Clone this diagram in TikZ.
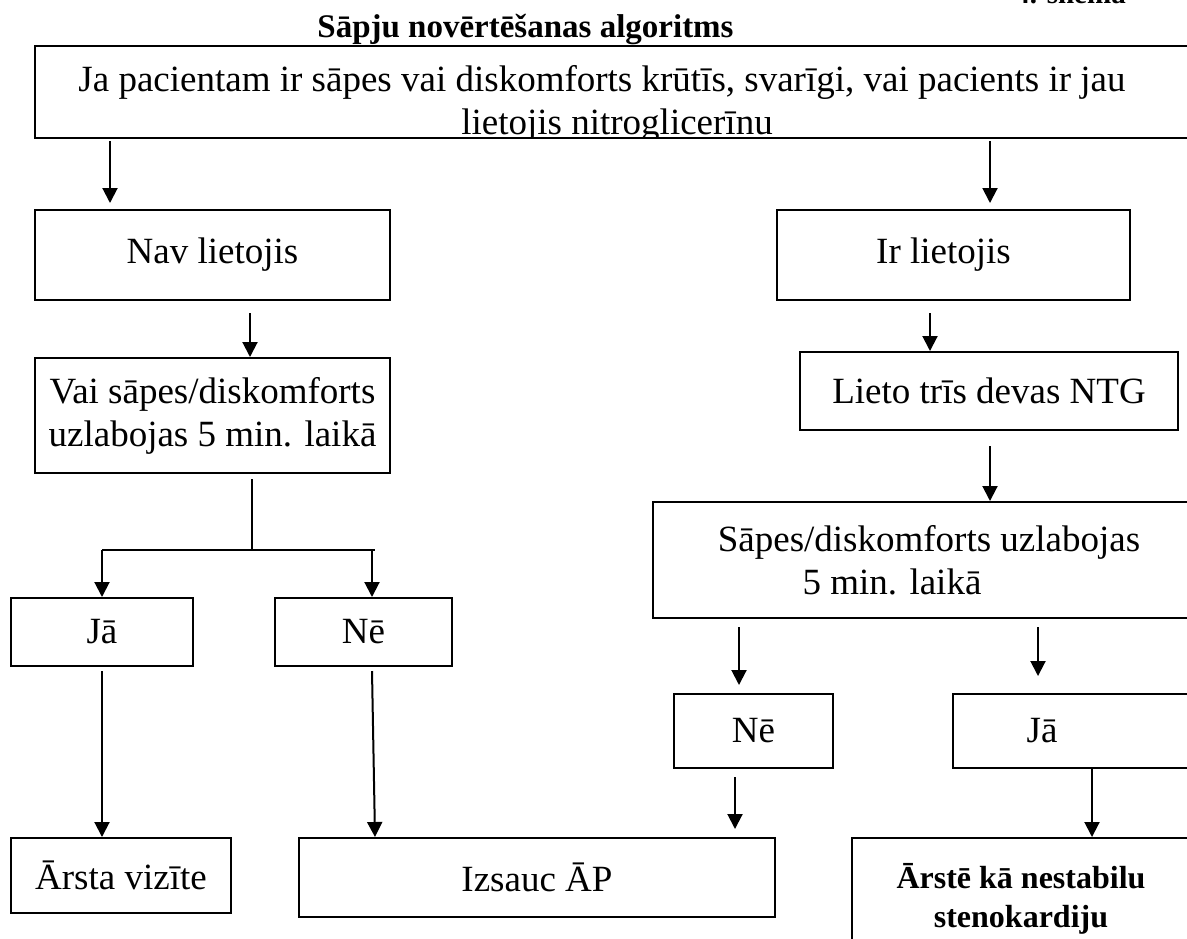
\documentclass[tikz,border=0pt]{standalone}
\usepackage{fontspec}
\setmainfont{Liberation Serif}
\usetikzlibrary{arrows.meta,calc}
\newcommand\fcbody{\fontsize{18.5pt}{21.5pt}\selectfont}
\newcommand\fcbold{\fontsize{16pt}{19.5pt}\selectfont\bfseries}
\begin{document}
\begin{tikzpicture}[x=0.5pt,y=-0.5pt,
  box/.style={draw,line width=1pt,inner sep=0pt,align=center,font=\fcbody},
  txt/.style={inner sep=0pt,align=center,font=\fcbody},
  arr/.style={line width=1pt,-{Triangle[length=7.5pt,width=7.5pt]}},
  ln/.style={line width=1pt}]
\useasboundingbox (0,0) rectangle (1187,938);
\clip (0,0) rectangle (1187,938);

% heading and sheet number
\node[inner sep=0pt,font=\fontsize{16.5pt}{19pt}\selectfont\bfseries,anchor=base west] (title) at (317,37) {Sāpju novērtēšanas algoritms};
\node[inner sep=0pt,font=\fontsize{14.5pt}{17pt}\selectfont\bfseries,anchor=base west] (sheet) at (1015,3) {4. shēma};

% question box, its text runs past the frame and is cut by it
\node[box,minimum width=587.5pt,minimum height=46pt] (top) at (622.5,92) {};
\begin{scope}
  \clip (35,46) rectangle (1210,138);
  \node[txt,anchor=base] (topline1) at (602,91) {Ja pacientam ir sāpes vai diskomforts krūtīs, svarīgi, vai pacients ir jau};
  \node[txt,anchor=base] (topline2) at (617,134) {lietojis nitroglicerīnu};
\end{scope}

% left branch
\node[box,minimum width=177.5pt,minimum height=45pt] (nav) at (212.5,255) {Nav lietojis};
\node[box,minimum width=177.5pt,minimum height=57.5pt] (vai) at (212.5,415.5) {Vai sāpes/diskomforts\\uzlabojas 5 min. laikā};
\node[box,minimum width=91pt,minimum height=34pt] (ja1) at (102,632) {Jā};
\node[box,minimum width=88.5pt,minimum height=34pt] (ne1) at (363.5,632) {Nē};
\node[box,minimum width=110pt,minimum height=37.5pt] (arsta) at (121,875.5) {Ārsta vizīte};
\node[box,minimum width=238pt,minimum height=39.5pt] (izsauc) at (537,877.5) {Izsauc ĀP};

% right branch
\node[box,minimum width=176.5pt,minimum height=45pt] (ir) at (953.5,255) {Ir lietojis\hspace*{10pt}};
\node[box,minimum width=189pt,minimum height=39pt] (lieto) at (989,391) {Lieto trīs devas NTG};
\node[box,minimum width=276pt,minimum height=58pt] (sapes) at (929,560) {Sāpes/diskomforts uzlabojas\\5 min. laikā\hspace*{37pt}};
\node[box,minimum width=79.5pt,minimum height=37pt] (ne2) at (753.5,731) {Nē};
\node[box,minimum width=128.5pt,minimum height=37pt] (ja2) at (1081.5,731) {Jā\hspace*{39.5pt}};
\node[box,minimum width=169pt,minimum height=61pt,font=\fcbold] (arste) at (1021,899) {Ārstē kā nestabilu\\stenokardiju};

% connectors
\draw[arr] (top.south -| 110,0) ++(0,2) -- ([yshift=3pt]nav.north -| 110,0);
\draw[arr] (top.south -| 990,0) ++(0,2) -- ([yshift=3pt]ir.north -| 990,0);
\draw[arr] (nav.south -| 250,0) ++(0,12) -- (vai.north -| 250,0);
\draw[arr] (ir.south -| 930,0) ++(0,12) -- (lieto.north -| 930,0);
\draw[arr] (lieto.south -| 990,0) ++(0,15) -- (sapes.north -| 990,0);

\coordinate (fork) at (252,550);
\draw[ln] (vai.south -| fork) ++(0,5) -- (fork);
\draw[ln] (fork -| ja1) -- (fork -| 375,0);
\draw[arr] (fork -| ja1) -- (ja1.north);
\draw[arr] (fork -| 372,0) -- (ne1.north -| 372,0);

\draw[arr] (ja1.south) ++(0,4) -- (arsta.north -| ja1);
\draw[arr] (ne1.south -| 372,0) ++(0,4) -- (izsauc.north -| 375,0);

\draw[arr] (sapes.south -| 739,0) ++(0,8) -- ([yshift=4pt]ne2.north -| 739,0);
\draw[arr] (sapes.south -| 1038,0) ++(0,8) -- ([yshift=8.5pt]ja2.north -| 1038,0);
\draw[arr] (ne2.south -| 735,0) ++(0,8) -- ([yshift=4pt]izsauc.north -| 735,0);
\draw[arr] (ja2.south -| 1092,0) -- (arste.north -| 1092,0);
\end{tikzpicture}
\end{document}
